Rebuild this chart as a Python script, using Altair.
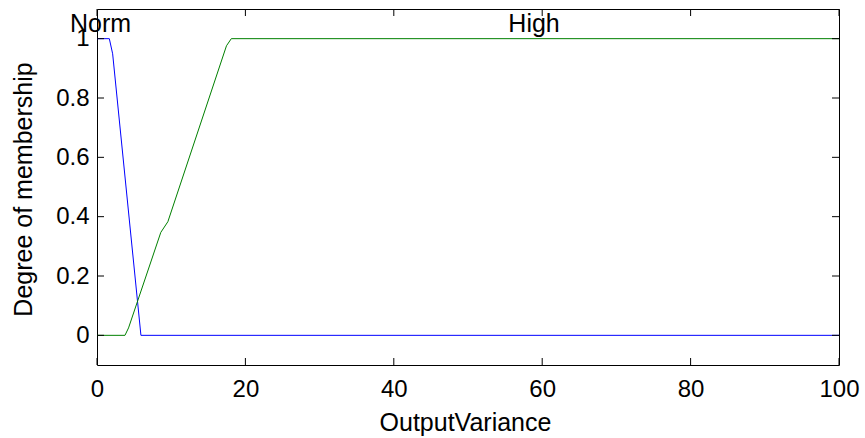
import altair as alt
import pandas as pd

# Membership function vertices (x, degree)
norm_x = [0, 1.66, 2.11, 5.92, 100]
norm_y = [1, 1, 0.949, 0, 0]
high_x = [0, 3.77, 4.25, 8.6, 9.55, 17.45, 18.1, 100]
high_y = [0, 0, 0.025, 0.347, 0.383, 0.976, 1, 1]

# Membership function names and where their labels sit
mf_names = ["Norm", "High"]
label_x = [0.47, 58.9]
label_y = [1, 1]

# Axis tick values
x_ticks = [0, 20, 40, 60, 80, 100]
y_ticks = [0, 0.2, 0.4, 0.6, 0.8, 1]

W, H = 742, 356
TICK = 7
FONT = "Liberation Sans, Arial, sans-serif"

curves = pd.DataFrame({
    "x": norm_x + high_x,
    "y": norm_y + high_y,
    "mf": ["Norm"] * len(norm_x) + ["High"] * len(high_x),
    "order": list(range(len(norm_x))) + list(range(len(high_x))),
})
labels = pd.DataFrame({"x": label_x, "y": label_y, "name": mf_names})
xt = pd.DataFrame({"x": x_ticks})
yt = pd.DataFrame({"y": y_ticks})

xs = alt.Scale(domain=[0, 100], nice=False, zero=False)
ys = alt.Scale(domain=[-0.1, 1.1], nice=False, zero=False)

x_axis = alt.Axis(
    values=x_ticks, grid=False, ticks=False, domain=False,
    labelFont=FONT, labelFontSize=24, labelColor="black",
    labelPadding=31, labelBaseline="alphabetic", labelFlush=False,
    title="OutputVariance", titleFont=FONT, titleFontSize=25,
    titleFontWeight="normal", titleColor="black",
    titleX=368, titleY=65, titleBaseline="alphabetic", titleAlign="center",
)
y_axis = alt.Axis(
    values=y_ticks, grid=False, ticks=False, domain=False, format="~g",
    labelFont=FONT, labelFontSize=24, labelColor="black",
    labelPadding=8, labelFlush=False,
    title="Degree of membership", titleFont=FONT, titleFontSize=25,
    titleFontWeight="normal", titleColor="black",
    titleX=-66, titleY=180, titleAngle=270,
    titleBaseline="alphabetic", titleAlign="center",
)

xenc = alt.X("x:Q", scale=xs, axis=x_axis)
yenc = alt.Y("y:Q", scale=ys, axis=y_axis)

lines = alt.Chart(curves).mark_line(strokeWidth=1, clip=True).encode(
    x=xenc,
    y=yenc,
    color=alt.Color("mf:N", scale=alt.Scale(domain=["Norm", "High"],
                                            range=["#0000ff", "#008000"]),
                    legend=None),
    order=alt.Order("order:Q"),
)

text = alt.Chart(labels).mark_text(
    font=FONT, fontSize=25, color="black", align="center",
    baseline="alphabetic", dy=-7,
).encode(x=xenc, y=yenc, text="name:N")

# Inward tick marks on all four sides of the box
tick_bottom = alt.Chart(xt).mark_rule(color="black", strokeWidth=1).encode(
    x=xenc, y=alt.value(H), y2=alt.value(H - TICK))
tick_top = alt.Chart(xt).mark_rule(color="black", strokeWidth=1).encode(
    x=xenc, y=alt.value(0), y2=alt.value(TICK))
tick_left = alt.Chart(yt).mark_rule(color="black", strokeWidth=1).encode(
    y=yenc, x=alt.value(0), x2=alt.value(TICK))
tick_right = alt.Chart(yt).mark_rule(color="black", strokeWidth=1).encode(
    y=yenc, x=alt.value(W), x2=alt.value(W - TICK))

chart = alt.layer(
    lines, tick_bottom, tick_top, tick_left, tick_right, text
).properties(
    width=W, height=H,
    autosize="none",
    padding={"left": 97, "top": 9, "right": 26, "bottom": 73},
    background="white",
).configure_view(
    stroke="black", strokeWidth=1
)

chart.save("out.html", embed_options={"renderer": "svg", "actions": False})
